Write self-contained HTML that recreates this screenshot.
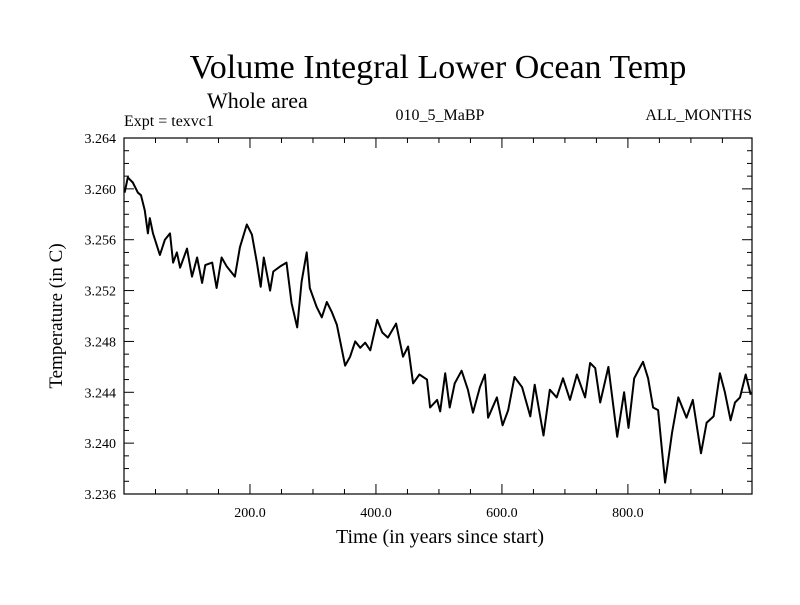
<!DOCTYPE html>
<html><head><meta charset="utf-8"><style>
body{margin:0;background:#fff}
svg text{font-family:"Liberation Serif",serif;fill:#000}
</style></head><body>
<svg id="chart" width="800" height="600">
<text x="438" y="78" font-size="34" text-anchor="middle">Volume Integral Lower Ocean Temp</text>
<text x="207" y="108" font-size="22">Whole area</text>
<text x="124" y="126" font-size="16">Expt = texvc1</text>
<text x="440" y="120" font-size="16" text-anchor="middle">010_5_MaBP</text>
<text x="752" y="120" font-size="16" text-anchor="end">ALL_MONTHS</text>
<text transform="translate(62,316) rotate(-90)" font-size="19" text-anchor="middle">Temperature (in C)</text>
<text x="440" y="543" font-size="20" text-anchor="middle">Time (in years since start)</text>
<g id="axes"></g>
<path id="series" fill="none" stroke="#000" stroke-width="2" stroke-linejoin="round"></path>
<rect x="124" y="138" width="628" height="356" fill="none" stroke="#000" stroke-width="1.2"></rect>
</svg>
<script>
const years=[1,6,14,22,27,33,38,41,46,57,65,73,78,84,89,100,108,116,124,129,140,147,155,163,176,184,195,203,211,217,222,232,237,248,258,266,275,282,290,295,306,314,322,330,338,351,359,367,375,383,391,402,410,419,432,443,451,459,469,481,486,497,502,510,517,525,536,546,554,565,573,578,592,601,610,620,632,645,652,666,676,687,697,708,719,732,740,748,756,769,783,794,801,810,824,832,840,848,859,870,880,893,903,916,925,936,946,954,963,970,978,987,995];
const temps=[3.2597,3.2609,3.2605,3.2597,3.2595,3.2583,3.2565,3.2577,3.2565,3.2548,3.2560,3.2565,3.2542,3.2550,3.2538,3.2553,3.2531,3.2546,3.2526,3.2540,3.2542,3.2522,3.2546,3.2539,3.2531,3.2554,3.2572,3.2564,3.2542,3.2523,3.2546,3.2520,3.2535,3.2539,3.2542,3.2510,3.2491,3.2527,3.2550,3.2522,3.2507,3.2499,3.2511,3.2503,3.2493,3.2461,3.2468,3.2480,3.2475,3.2479,3.2473,3.2497,3.2487,3.2483,3.2494,3.2468,3.2476,3.2447,3.2454,3.2450,3.2428,3.2434,3.2425,3.2455,3.2428,3.2447,3.2457,3.2442,3.2424,3.2444,3.2454,3.2420,3.2436,3.2414,3.2426,3.2452,3.2444,3.2421,3.2446,3.2406,3.2442,3.2436,3.2451,3.2434,3.2454,3.2436,3.2463,3.2459,3.2432,3.2460,3.2405,3.2440,3.2412,3.2451,3.2464,3.2451,3.2428,3.2426,3.2369,3.2408,3.2436,3.2420,3.2434,3.2392,3.2416,3.2421,3.2455,3.2440,3.2418,3.2432,3.2436,3.2454,3.2438];
const xTicks=[200,400,600,800];
const xTickLabels=["200.0","400.0","600.0","800.0"];
const yTicks=[3.236,3.240,3.244,3.248,3.252,3.256,3.260,3.264];
const yTickLabels=["3.236","3.240","3.244","3.248","3.252","3.256","3.260","3.264"];
const L=124,R=752,T=138,B=494,X0=0,X1=997,Y0=3.236,Y1=3.264;
const sx=v=>L+(v-X0)/(X1-X0)*(R-L);
const sy=v=>B-(v-Y0)/(Y1-Y0)*(B-T);
const NS="http://www.w3.org/2000/svg";
const ax=document.getElementById('axes');
function line(x1,y1,x2,y2,name){const l=document.createElementNS(NS,'line');l.setAttribute('x1',x1);l.setAttribute('y1',y1);l.setAttribute('x2',x2);l.setAttribute('y2',y2);l.setAttribute('stroke','#000');l.setAttribute('stroke-width','1');


ax.appendChild(l);}
function text(x,y,s,anchor,name){const t=document.createElementNS(NS,'text');t.setAttribute('x',x);t.setAttribute('y',y);t.setAttribute('font-size','14');t.setAttribute('text-anchor',anchor);t.textContent=s;


ax.appendChild(t);}
for(let v=50;v<X1;v+=50){const x=sx(v);const maj=v%200===0;const len=maj?10:5;line(x,B,x,B-len,'x-tick');line(x,T,x,T+len,'x-tick-top');}
xTicks.forEach((v,i)=>text(sx(v),517,xTickLabels[i],'middle','x-tick-label'));
for(let k=0;k<=28;k++){const v=Y0+k*0.001;const y=sy(v);const maj=k%4===0;const len=maj?10:5;line(L,y,L+len,y,'y-tick');line(R,y,R-len,y,'y-tick-right');}
yTicks.forEach((v,i)=>text(116,sy(v)+5,yTickLabels[i],'end','y-tick-label'));
let d='';years.forEach((yr,i)=>{d+=(i?'L':'M')+sx(yr).toFixed(1)+','+sy(temps[i]).toFixed(1);});
document.getElementById('series').setAttribute('d',d);
</script>
</body></html>
